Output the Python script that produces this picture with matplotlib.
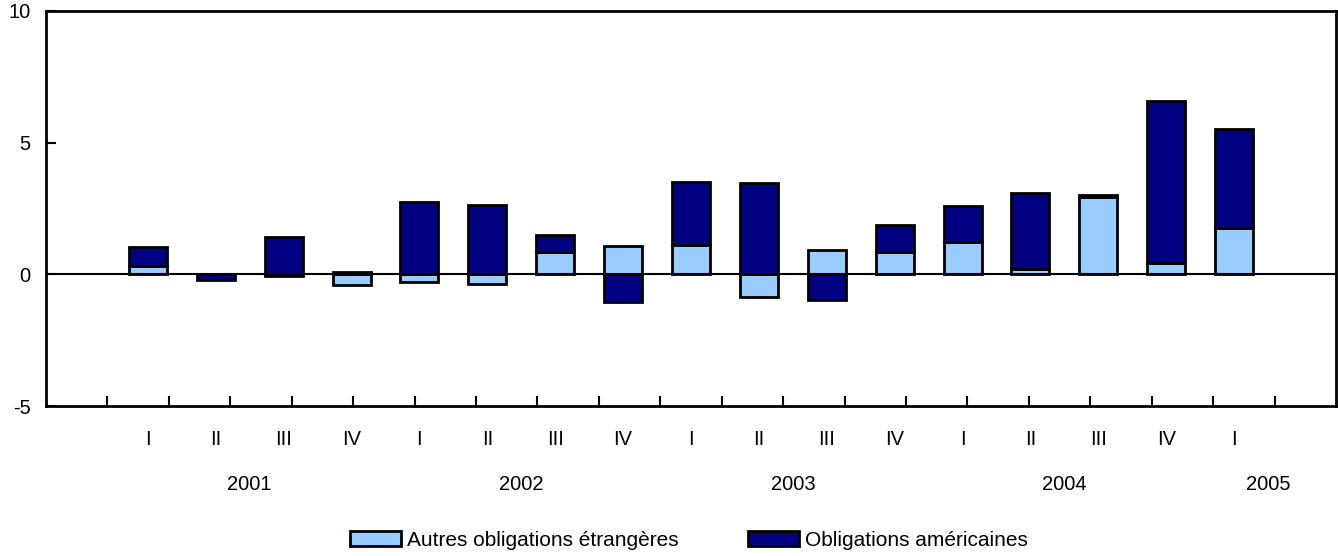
import numpy as np
import matplotlib
matplotlib.use('Agg')
import matplotlib.pyplot as plt

# quarterly values, 2001 Q1 .. 2005 Q1
quarters = ["I", "II", "III", "IV", "I", "II", "III", "IV", "I", "II", "III", "IV",
            "I", "II", "III", "IV", "I"]
years = ["2001", "2002", "2003", "2004", "2005"]
autres = [0.30, 0.00, -0.05, -0.40, -0.30, -0.35, 0.85, 1.06, 1.10, -0.86, 0.91, 0.85,
          1.23, 0.22, 2.92, 0.44, 1.76]
americaines = [0.72, -0.20, 1.40, 0.10, 2.73, 2.65, 0.63, -1.05, 2.39, 3.47, -0.96, 1.04,
               1.38, 2.85, 0.11, 6.15, 3.76]
year_pos = [2.5, 6.5, 10.5, 14.5, 17.5]

light = "#99CCFF"
dark = "#000080"

plt.rcParams['font.family'] = ['Liberation Sans', 'DejaVu Sans']

fig = plt.figure(figsize=(13.38, 5.56), dpi=100)
ax = fig.add_axes([46 / 1338, 1 - 406 / 556, 1290 / 1338, 395 / 556])

autres = np.array(autres)
americaines = np.array(americaines)
x = np.arange(1, len(autres) + 1)

# stack: positive parts stack upward, negative parts stack downward
base_b = np.where(np.sign(americaines) == np.sign(autres), autres, 0.0)

ax.bar(x, autres, width=0.56, color=light, edgecolor="black",
       linewidth=2, label="Autres obligations étrangères", zorder=2)
ax.bar(x, americaines, width=0.56, bottom=base_b, color=dark, edgecolor="black",
       linewidth=2, label="Obligations américaines", zorder=2)

ax.axhline(0, color="black", linewidth=1.5, zorder=3)

ax.set_xlim(-0.5, 18.5)
ax.set_ylim(-5, 10)
ax.set_yticks([-5, 0, 5, 10])
ax.set_yticklabels(["-5", "0", "5", "10"], fontsize=14.5)
ax.tick_params(axis='y', direction='in', length=7, width=1.5, pad=11)

# tick marks on the category axis don't line up with bars (as in the original)
ax.set_xticks([-0.5 + k * 19 / 21 for k in range(1, 21)])
ax.set_xticklabels([])
ax.tick_params(axis='x', direction='in', length=7, width=1.5)

trans = ax.get_xaxis_transform()
for xi, q in zip(x, quarters):
    ax.text(xi, -0.085, q, transform=trans, ha='center', va='center', fontsize=14.5)
for xp, yr in zip(year_pos, years):
    ax.text(xp, -0.2, yr, transform=trans, ha='center', va='center', fontsize=14.5)

for s in ax.spines.values():
    s.set_linewidth(2)

fig.legend(loc='center', bbox_to_anchor=(0.515, 0.028), ncol=2, frameon=False,
           fontsize=15, handlelength=2.45, handleheight=0.72, handletextpad=0.3,
           columnspacing=3.3)

fig.savefig("out.png", dpi=100)
